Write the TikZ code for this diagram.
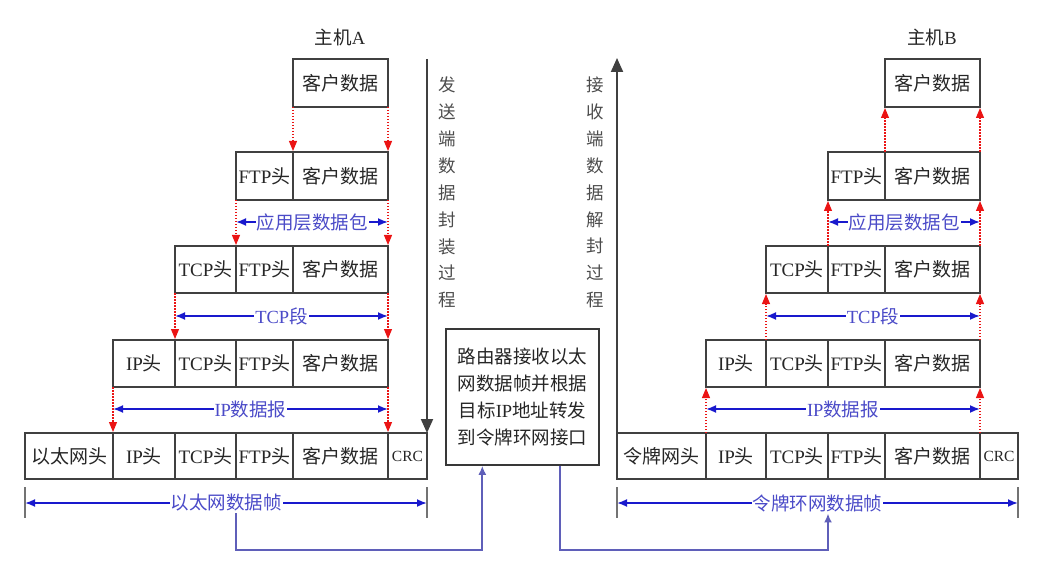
\documentclass[tikz,border=0pt]{standalone}
\usepackage{fontspec}
\setmainfont{Liberation Serif}
\newfontfamily\zhf{Noto Sans CJK SC}
\newcommand\zh[1]{{\zhf #1}}
\usetikzlibrary{arrows.meta,calc}

\definecolor{dimblue}{RGB}{25,25,205}
\definecolor{labelblue}{RGB}{75,75,200}
\definecolor{linkblue}{RGB}{95,95,185}
\definecolor{encred}{RGB}{235,20,20}

% one protocol cell: name, x-left, x-right, y-top, y-bottom, text
\newcommand\pcell[6]{%
  \node[cellbox, minimum width={#3pt-#2pt}, minimum height={#5pt-#4pt}]
    (#1) at ({(#2+#3)/2},{(#4+#5)/2}) {#6};}

\begin{document}
\begin{tikzpicture}[x=1pt,y=-1pt,
  cellbox/.style={draw=black!75, line width=2pt, inner sep=0pt, outer sep=0pt,
    text=black!85, font=\fontsize{19}{20}\selectfont},
  crcbox/.style={font=\fontsize{15.5}{17}\selectfont},
  encap/.style={draw=encred, line width=1.1pt, dash pattern=on 1.5pt off 1.5pt,
    -{Triangle[length=10pt,width=8pt]}, shorten >=1pt},
  dim/.style={draw=dimblue, line width=1.8pt,
    {Latex[length=10pt,width=8pt]}-{Latex[length=10pt,width=8pt]}},
  dimlabel/.style={fill=white, text=labelblue, inner sep=1pt,
    font=\fontsize{18.5}{20}\selectfont},
  tick/.style={draw=black!55, line width=2.6pt},
  flow/.style={draw=black!75, line width=2pt, -{Triangle[length=14pt,width=12pt]}},
  vtext/.style={align=center, text=black!70, inner sep=0pt,
    font=\fontsize{17.5}{26.9}\zhf},
  router/.style={draw=black!78, line width=1.6pt, minimum width=153pt,
    minimum height=136pt, align=center, inner sep=0pt, text=black!85,
    font=\fontsize{18.5}{27}\selectfont},
  host/.style={text=black!85, font=\fontsize{18.5}{20}\selectfont},
  link/.style={draw=linkblue, line width=2pt, -{Latex[length=9pt,width=8pt]}}
]
\useasboundingbox (0,0) rectangle (1038,561);

% ---------------- host A : encapsulation ----------------
\node[host] (hostA) at (340,37) {\zh{主机}A};

\pcell{A1d}{293}{388}{59}{107}{\zh{客户数据}}

\pcell{A2f}{236}{293}{152}{200}{FTP\zh{头}}
\pcell{A2d}{293}{388}{152}{200}{\zh{客户数据}}

\pcell{A3t}{175}{236}{246}{293}{TCP\zh{头}}
\pcell{A3f}{236}{293}{246}{293}{FTP\zh{头}}
\pcell{A3d}{293}{388}{246}{293}{\zh{客户数据}}

\pcell{A4i}{113}{175}{340}{387}{IP\zh{头}}
\pcell{A4t}{175}{236}{340}{387}{TCP\zh{头}}
\pcell{A4f}{236}{293}{340}{387}{FTP\zh{头}}
\pcell{A4d}{293}{388}{340}{387}{\zh{客户数据}}

\pcell{A5e}{25}{113}{433}{479}{\zh{以太网头}}
\pcell{A5i}{113}{175}{433}{479}{IP\zh{头}}
\pcell{A5t}{175}{236}{433}{479}{TCP\zh{头}}
\pcell{A5f}{236}{293}{433}{479}{FTP\zh{头}}
\pcell{A5d}{293}{388}{433}{479}{\zh{客户数据}}
\node[cellbox,crcbox,minimum width=39pt,minimum height=46pt] (A5c) at (407.5,456) {CRC};

% layer boundaries carried downwards
\draw[encap] (A1d.south west) -- (A2d.north west);
\draw[encap] (A1d.south east) -- (A2d.north east);
\draw[encap] (A2f.south west) -- (A3f.north west);
\draw[encap] (A2d.south east) -- (A3d.north east);
\draw[encap] (A3t.south west) -- (A4t.north west);
\draw[encap] (A3d.south east) -- (A4d.north east);
\draw[encap] (A4i.south west) -- (A5i.north west);
\draw[encap] (A4d.south east) -- (A5d.north east);

% unit spans
\draw[dim] ([yshift=-22pt]A2f.south west) -- node[dimlabel] {\zh{应用层数据包}} ([yshift=-22pt]A2d.south east);
\draw[dim] ([yshift=-23pt]A3t.south west) -- node[dimlabel] {TCP\zh{段}} ([yshift=-23pt]A3d.south east);
\draw[dim] ([yshift=-22pt]A4i.south west) -- node[dimlabel] {IP\zh{数据报}} ([yshift=-22pt]A4d.south east);
\draw[tick] ([yshift=-8pt]A5e.south west) -- ([yshift=-39pt]A5e.south west);
\draw[tick] ([yshift=-8pt]A5c.south east) -- ([yshift=-39pt]A5c.south east);
\draw[dim] ([yshift=-24pt]A5e.south west) -- node[dimlabel] (Aframe) {\zh{以太网数据帧}} ([yshift=-24pt]A5c.south east);

% sending direction
\coordinate (Atop) at (427,59);
\draw[flow] (Atop) -- (A5c.north east);
\node[vtext] (Atxt) at (447,192.5) {发\\送\\端\\数\\据\\封\\装\\过\\程};

% ---------------- router ----------------
\node[router] (router) at (522.5,397)
  {\zh{路由器接收以太}\\\zh{网数据帧并根据}\\\zh{目标}IP\zh{地址转发}\\\zh{到令牌环网接口}};

% ---------------- host B : decapsulation ----------------
\node[host] (hostB) at (932,37) {\zh{主机}B};

\pcell{B1d}{885}{980}{59}{107}{\zh{客户数据}}

\pcell{B2f}{828}{885}{152}{200}{FTP\zh{头}}
\pcell{B2d}{885}{980}{152}{200}{\zh{客户数据}}

\pcell{B3t}{766}{828}{246}{293}{TCP\zh{头}}
\pcell{B3f}{828}{885}{246}{293}{FTP\zh{头}}
\pcell{B3d}{885}{980}{246}{293}{\zh{客户数据}}

\pcell{B4i}{706}{766}{340}{387}{IP\zh{头}}
\pcell{B4t}{766}{828}{340}{387}{TCP\zh{头}}
\pcell{B4f}{828}{885}{340}{387}{FTP\zh{头}}
\pcell{B4d}{885}{980}{340}{387}{\zh{客户数据}}

\pcell{B5e}{617}{706}{433}{479}{\zh{令牌网头}}
\pcell{B5i}{706}{766}{433}{479}{IP\zh{头}}
\pcell{B5t}{766}{828}{433}{479}{TCP\zh{头}}
\pcell{B5f}{828}{885}{433}{479}{FTP\zh{头}}
\pcell{B5d}{885}{980}{433}{479}{\zh{客户数据}}
\node[cellbox,crcbox,minimum width=38pt,minimum height=46pt] (B5c) at (999,456) {CRC};

% layer boundaries carried upwards
\draw[encap] (B2d.north west) -- (B1d.south west);
\draw[encap] (B2d.north east) -- (B1d.south east);
\draw[encap] (B3f.north west) -- (B2f.south west);
\draw[encap] (B3d.north east) -- (B2d.south east);
\draw[encap] (B4t.north west) -- (B3t.south west);
\draw[encap] (B4d.north east) -- (B3d.south east);
\draw[encap] (B5i.north west) -- (B4i.south west);
\draw[encap] (B5d.north east) -- (B4d.south east);

% unit spans
\draw[dim] ([yshift=-22pt]B2f.south west) -- node[dimlabel] {\zh{应用层数据包}} ([yshift=-22pt]B2d.south east);
\draw[dim] ([yshift=-23pt]B3t.south west) -- node[dimlabel] {TCP\zh{段}} ([yshift=-23pt]B3d.south east);
\draw[dim] ([yshift=-22pt]B4i.south west) -- node[dimlabel] {IP\zh{数据报}} ([yshift=-22pt]B4d.south east);
\draw[tick] ([yshift=-8pt]B5e.south west) -- ([yshift=-39pt]B5e.south west);
\draw[tick] ([yshift=-8pt]B5c.south east) -- ([yshift=-39pt]B5c.south east);
\draw[dim] ([yshift=-24pt]B5e.south west) -- node[dimlabel] (Bframe) {\zh{令牌环网数据帧}} ([yshift=-24pt]B5c.south east);

% receiving direction
\coordinate (Btop) at (617,58);
\draw[flow] (B5e.south west) -- (Btop);
\node[vtext] (Btxt) at (595,192.5) {接\\收\\端\\数\\据\\解\\封\\过\\程};

% ---------------- frame hand-over through the router ----------------
\coordinate (Rin) at ($(router.south west)!0.24!(router.south east)$);
\coordinate (Rout) at ($(router.south west)!0.74!(router.south east)$);
\draw[link] (Aframe.south -| A5f.west) |- ($(Rin)+(0,84)$) -- (Rin);
\draw[link] (Rout) -- ($(Rout)+(0,84)$) -| (Bframe.south -| B5f.west);
\end{tikzpicture}
\end{document}
